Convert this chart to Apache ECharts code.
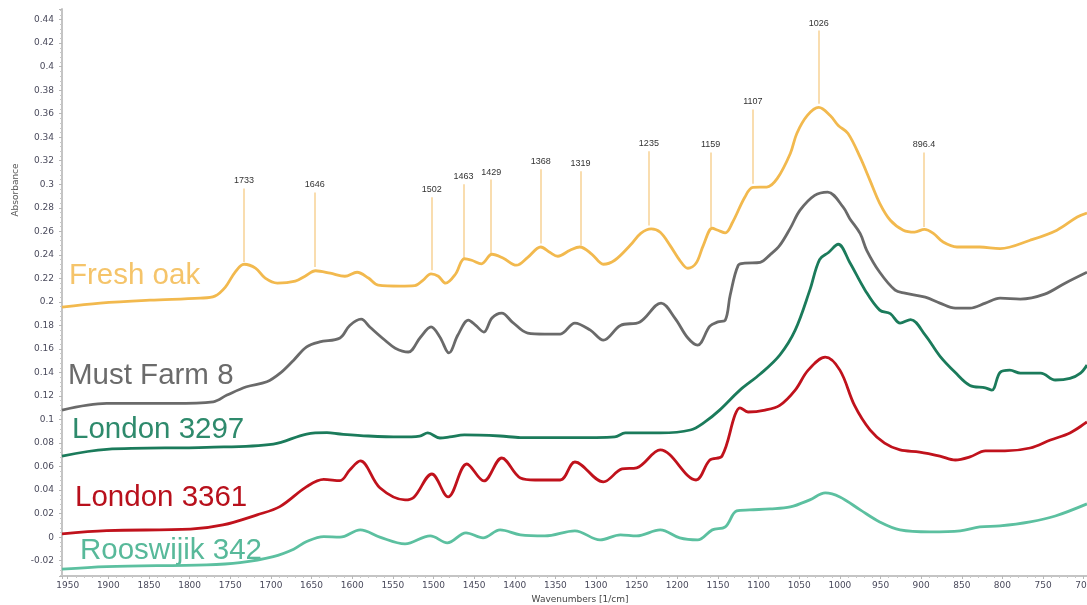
<!DOCTYPE html>
<html>
<head>
<meta charset="utf-8">
<script src="https://cdn.jsdelivr.net/npm/echarts@6/dist/echarts.min.js"></script>
<style>
  html, body { margin: 0; padding: 0; background: #ffffff; }
  #chart { width: 1087px; height: 605px; }
</style>
</head>
<body>
<div id="chart"></div>
<script>
// FTIR absorbance spectra, [wavenumber (1/cm), absorbance]
const freshOak = [
  [1957,0.1955],[1910,0.1990],[1849,0.2015],[1787,0.2032],[1769,0.2049],[1756,0.2126],[1744,0.2254],[1733,0.2320],
  [1719,0.2287],[1707,0.2202],[1692,0.2160],[1670,0.2177],[1658,0.2219],[1645,0.2265],[1627,0.2244],[1609,0.2218],
  [1594,0.2252],[1580,0.2203],[1568,0.2143],[1541,0.2135],[1523,0.2139],[1513,0.2184],[1503,0.2239],[1494,0.2218],
  [1485,0.2159],[1473,0.2235],[1462,0.2367],[1453,0.2354],[1441,0.2324],[1428,0.2405],[1414,0.2371],[1398,0.2312],
  [1384,0.2379],[1368,0.2467],[1357,0.2422],[1347,0.2388],[1332,0.2439],[1320,0.2467],[1305,0.2405],[1291,0.2320],
  [1277,0.2354],[1258,0.2481],[1245,0.2583],[1232,0.2621],[1221,0.2592],[1209,0.2481],[1197,0.2354],[1187,0.2286],
  [1177,0.2328],[1168,0.2481],[1157,0.2626],[1150,0.2609],[1141,0.2587],[1132,0.2677],[1117,0.2890],[1107,0.2974],
  [1090,0.2976],[1077,0.3050],[1061,0.3262],[1053,0.3432],[1040,0.3585],[1026,0.3653],[1012,0.3585],[1002,0.3500],
  [990,0.3432],[975,0.3228],[963,0.3033],[951,0.2838],[938,0.2694],[922,0.2610],[908,0.2594],[896,0.2617],
  [885,0.2583],[873,0.2509],[856,0.2467],[828,0.2467],[803,0.2453],[766,0.2524],[733,0.2610],[708,0.2722],[696,0.2756]
];
const mustFarm8 = [
  [1957,0.1081],[1902,0.1138],[1820,0.1138],[1771,0.1151],[1754,0.1208],[1730,0.1279],[1705,0.1321],[1689,0.1392],
  [1672,0.1505],[1656,0.1618],[1640,0.1660],[1615,0.1694],[1603,0.1800],[1589,0.1853],[1578,0.1785],[1560,0.1676],
  [1547,0.1607],[1531,0.1574],[1516,0.1700],[1503,0.1787],[1492,0.1700],[1481,0.1566],[1470,0.1718],[1457,0.1846],
  [1448,0.1800],[1438,0.1744],[1428,0.1863],[1416,0.1905],[1403,0.1829],[1384,0.1735],[1363,0.1727],[1344,0.1727],
  [1326,0.1820],[1307,0.1760],[1291,0.1675],[1270,0.1800],[1246,0.1830],[1220,0.1990],[1203,0.1863],[1187,0.1693],
  [1175,0.1633],[1160,0.1794],[1150,0.1830],[1141,0.1846],[1135,0.2057],[1125,0.2312],[1117,0.2329],[1098,0.2337],
  [1086,0.2400],[1074,0.2480],[1061,0.2627],[1049,0.2780],[1031,0.2906],[1015,0.2934],[996,0.2806],[988,0.2710],
  [975,0.2580],[967,0.2439],[951,0.2252],[932,0.2100],[920,0.2075],[895,0.2040],[877,0.1990],[858,0.1947],
  [840,0.1947],[821,0.1990],[803,0.2032],[778,0.2024],[748,0.2066],[723,0.2159],[696,0.2252]
];
const london3297 = [
  [1957,0.0690],[1902,0.0747],[1779,0.0764],[1697,0.0792],[1656,0.0877],[1631,0.0888],[1615,0.0877],[1580,0.0860],
  [1541,0.0852],[1517,0.0860],[1507,0.0886],[1492,0.0843],[1480,0.0852],[1462,0.0869],[1418,0.0860],[1393,0.0847],
  [1300,0.0847],[1277,0.0852],[1264,0.0886],[1221,0.0886],[1184,0.0911],[1166,0.0980],[1148,0.1080],[1123,0.1250],
  [1098,0.1387],[1074,0.1548],[1055,0.1760],[1037,0.2100],[1025,0.2360],[1014,0.2420],[1002,0.2490],[988,0.2337],
  [969,0.2100],[951,0.1930],[938,0.1900],[926,0.1820],[913,0.1850],[895,0.1718],[877,0.1540],[858,0.1400],
  [840,0.1290],[821,0.1270],[813,0.1250],[803,0.1400],[791,0.1420],[778,0.1395],[753,0.1395],[735,0.1336],
  [717,0.1350],[704,0.1395],[696,0.1463]
];
const london3361 = [
  [1957,0.0028],[1902,0.0056],[1799,0.0068],[1759,0.0104],[1717,0.0190],[1689,0.0260],[1656,0.0430],[1635,0.0492],
  [1615,0.0480],[1603,0.0571],[1590,0.0648],[1566,0.0420],[1535,0.0317],[1524,0.0340],[1502,0.0537],[1482,0.0342],
  [1459,0.0622],[1438,0.0478],[1416,0.0673],[1393,0.0503],[1375,0.0486],[1344,0.0486],[1326,0.0639],[1291,0.0470],
  [1268,0.0580],[1250,0.0590],[1221,0.0742],[1177,0.0486],[1160,0.0656],[1145,0.0690],[1129,0.1040],[1123,0.1100],
  [1113,0.1064],[1092,0.1080],[1074,0.1120],[1055,0.1250],[1039,0.1420],[1018,0.1530],[1000,0.1420],[982,0.1120],
  [963,0.0912],[945,0.0800],[926,0.0742],[902,0.0724],[877,0.0690],[858,0.0656],[840,0.0682],[821,0.0733],
  [797,0.0733],[766,0.0758],[741,0.0826],[717,0.0886],[696,0.0980]
];
const rooswijik342 = [
  [1957,-0.0272],[1902,-0.0250],[1779,-0.0235],[1738,-0.0216],[1697,-0.0165],[1672,-0.0102],[1656,-0.0037],[1635,0.0005],
  [1615,0.0000],[1590,0.0062],[1566,0.0000],[1535,-0.0057],[1504,0.0011],[1483,-0.0048],[1460,0.0037],[1439,-0.0006],
  [1418,0.0062],[1393,0.0020],[1363,0.0011],[1326,0.0054],[1295,-0.0023],[1270,0.0020],[1250,0.0011],[1221,0.0062],
  [1197,-0.0006],[1175,-0.0023],[1157,0.0062],[1141,0.0088],[1127,0.0223],[1111,0.0232],[1086,0.0240],[1061,0.0257],
  [1037,0.0317],[1018,0.0376],[1000,0.0342],[975,0.0232],[951,0.0130],[926,0.0062],[889,0.0045],[852,0.0054],
  [828,0.0088],[803,0.0096],[766,0.0130],[735,0.0180],[696,0.0283]
];

// Peak picks on the fresh oak spectrum: position, leader-line foot and head (absorbance)
const peakWavenumbers = [1733, 1646, 1502, 1463, 1429, 1368, 1319, 1235, 1159, 1107, 1026, 896.4];
const peakLineFoot    = [0.234, 0.2297, 0.2269, 0.2371, 0.2410, 0.2496, 0.2480, 0.2650, 0.2637, 0.3005, 0.3684, 0.2637];
const peakLineHead    = [0.2965, 0.2931, 0.2890, 0.3000, 0.3040, 0.3127, 0.3110, 0.3280, 0.3270, 0.3636, 0.4307, 0.3270];

const seriesNames  = ['Fresh oak', 'Must Farm 8', 'London 3297', 'London 3361', 'Rooswijik 342'];
const seriesData   = [freshOak, mustFarm8, london3297, london3361, rooswijik342];
const lineColors   = ['#f2b94e', '#6a6a6a', '#1b7b5b', '#c0121c', '#5cc0a0'];
const nameColors   = ['#f5c46a', '#6b6b6b', '#2e8a6c', '#b8101c', '#58b99a'];
const namePos      = [[69, 276], [68, 376], [72, 430], [75, 498], [80, 551]];

const chart = echarts.init(document.getElementById('chart'), null, { renderer: 'canvas', width: 1087, height: 605 });

const tickFont = 'DejaVu Sans';
const series = seriesData.map((d, i) => {
  const s = {
    name: seriesNames[i],
    type: 'line',
    data: d,
    smooth: 0.35,
    showSymbol: false,
    symbol: 'none',
    silent: true,
    animation: false,
    z: 5 - i,
    lineStyle: { color: lineColors[i], width: 2.8 }
  };
  if (i === 0) {
    s.markLine = {
      silent: true,
      animation: false,
      symbol: ['none', 'none'],
      lineStyle: { color: '#f8d59b', width: 1.6, type: 'solid' },
      label: {
        show: true, position: 'end', distance: 3,
        formatter: p => p.name,
        color: '#333333', fontSize: 9, fontFamily: 'Liberation Sans, Arial, sans-serif'
      },
      emphasis: { disabled: true },
      data: peakWavenumbers.map((w, k) => [
        { coord: [w, peakLineFoot[k]], name: String(w) },
        { coord: [w, peakLineHead[k]] }
      ])
    };
  }
  return s;
});

const graphics = seriesNames.map((n, i) => ({
  type: 'text',
  x: namePos[i][0],
  y: namePos[i][1],
  silent: true,
  style: {
    text: n,
    fill: nameColors[i],
    font: '29.5px "Liberation Sans", Arial, sans-serif',
    align: 'left',
    verticalAlign: 'middle'
  }
}));
graphics.push({
  type: 'text', x: 16, y: 190, rotation: Math.PI / 2, silent: true,
  style: { text: 'Absorbance', fill: '#555555', font: '9px "DejaVu Sans"', align: 'center', verticalAlign: 'middle' }
});
graphics.push({
  type: 'text', x: 580, y: 600, silent: true,
  style: { text: 'Wavenumbers [1/cm]', fill: '#444444', font: '9px "DejaVu Sans"', align: 'center', verticalAlign: 'middle' }
});

chart.setOption({
  backgroundColor: '#ffffff',
  animation: false,
  grid: { left: 62, right: 0, top: 9, bottom: 29, containLabel: false, outerBoundsMode: 'none' },
  xAxis: {
    type: 'value',
    inverse: true,
    min: 696,
    max: 1957,
    minInterval: 50,
    maxInterval: 50,
    axisLine: { show: true, onZero: false, lineStyle: { color: '#c4c4c4', width: 2 } },
    axisTick: { show: true, length: 3, lineStyle: { color: '#b8b8b8' } },
    minorTick: { show: true, splitNumber: 5, length: 2, lineStyle: { color: '#c8c8c8' } },
    axisLabel: {
      color: '#4a4a5c', fontSize: 9, fontFamily: tickFont, margin: 5,
      showMinLabel: false, showMaxLabel: false, hideOverlap: false,
      formatter: v => String(v)
    },
    splitLine: { show: false },
    minorSplitLine: { show: false }
  },
  yAxis: {
    type: 'value',
    min: -0.033,
    max: 0.449,
    minInterval: 0.02,
    maxInterval: 0.02,
    axisLine: { show: true, onZero: false, lineStyle: { color: '#c4c4c4', width: 2 } },
    axisTick: { show: true, length: 3, lineStyle: { color: '#b8b8b8' } },
    minorTick: { show: true, splitNumber: 5, length: 2, lineStyle: { color: '#c8c8c8' } },
    axisLabel: { color: '#4a4a5c', fontSize: 9, fontFamily: tickFont, margin: 8, showMinLabel: false, showMaxLabel: false },
    splitLine: { show: false },
    minorSplitLine: { show: false }
  },
  graphic: graphics,
  series: series
});
</script>
</body>
</html>
